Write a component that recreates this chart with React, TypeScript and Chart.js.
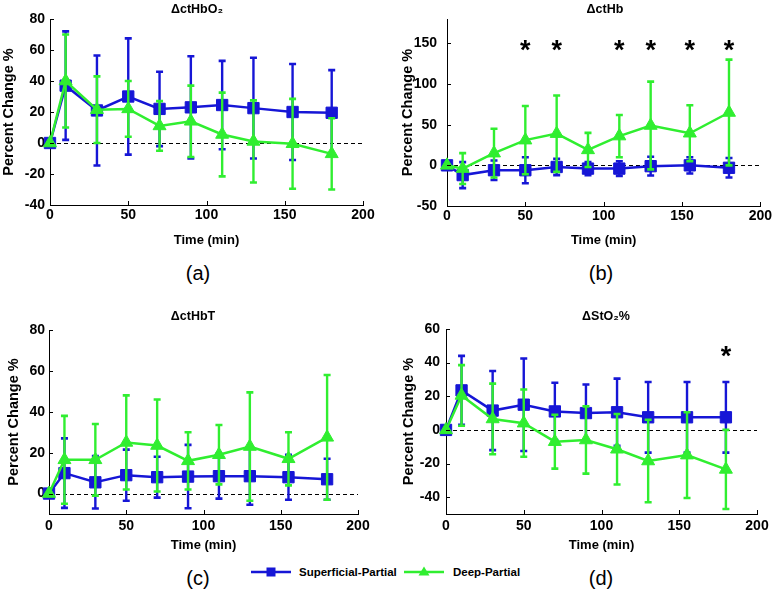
import React, { useEffect, useRef } from "react";
import { Chart, registerables } from "chart.js";

Chart.register(...registerables);

// ---------- data ----------
const timeMin = [0, 10, 30, 50, 70, 90, 110, 130, 155, 180];
const xTicks = [0, 50, 100, 150, 200];

// (a) ΔctHbO2
const hbo2Superficial = [0, 37, 21, 30, 22, 23, 24.5, 22.5, 20, 19.5];
const hbo2SuperficialErr = [0, 35, 35.5, 37.5, 24, 33, 28.5, 32.5, 31, 27.5];
const hbo2Deep = [0, 40, 21.5, 22, 11, 14, 5.5, 1, -0.5, -7];
const hbo2DeepErr = [0, 30, 21.5, 18, 16, 23, 27, 26.5, 29, 23];
const hbo2Ticks = [-40, -20, 0, 20, 40, 60, 80];

// (b) ΔctHb
const hbSuperficial = [0, -12, -6, -6, -2, -4, -4, -1, 0, -3];
const hbSuperficialErr = [0, 16, 12, 16, 10, 8, 9, 11.5, 10, 12];
const hbDeep = [0, -4, 15, 31, 39, 19, 36, 49, 39.5, 65];
const hbDeepErr = [0, 19, 30, 42, 47, 21, 26, 54, 34.5, 65];
const hbTicks = [-50, 0, 50, 100, 150];
const hbStarTimes = [50, 70, 110, 130, 155, 180];
const hbStarLevels = [150, 150, 150, 150, 150, 150];

// (c) ΔctHbT
const hbtSuperficial = [0, 10, 5.5, 9, 8, 8.3, 8.5, 8.5, 8, 7];
const hbtSuperficialErr = [0, 17, 12.8, 12.5, 10, 15.5, 11, 14, 11, 10];
const hbtDeep = [0, 16.5, 16.5, 25, 23.5, 16, 19, 23, 17, 27.5];
const hbtDeepErr = [0, 21.5, 17.5, 23, 22.5, 14, 14.5, 26.5, 13, 30.5];
const hbtTicks = [0, 20, 40, 60, 80];

// (d) ΔStO2%
const sto2Superficial = [0, 23.5, 11.5, 15, 11, 10, 10.5, 7.5, 7.5, 7.5];
const sto2SuperficialErr = [0, 20.5, 23.5, 27.5, 17, 17, 20, 21, 21, 21];
const sto2Deep = [0, 20.5, 6.5, 4, -7, -6, -11.5, -18.5, -15, -23.5];
const sto2DeepErr = [0, 18, 21, 20, 16, 20, 21, 24.5, 25.5, 23.5];
const sto2Ticks = [-40, -20, 0, 20, 40, 60];
const sto2StarTimes = [180];
const sto2StarLevels = [48];

const zeroLevel = 0;

// ---------- style ----------
const BLUE = "#1616d6";
const GREEN = "#30ee30";
const FONT = "'Liberation Sans', Arial, Helvetica, sans-serif";

interface PanelSpec {
  title: string;
  left: number;
  top: number;
  width: number;
  height: number;
  pad: { left: number; top: number; right: number; bottom: number };
  yAxisWidth: number;
  xAxisHeight: number;
  yMin: number;
  yMax: number;
  yTicks: number[];
  yTickPad: number;
  xTickPad: number;
  yTitlePad: number;
  titleX: number;
  titleY: number;
  sup: number[];
  supErr: number[];
  deep: number[];
  deepErr: number[];
  starTimes: number[];
  starLevels: number[];
}

const panels: PanelSpec[] = [
  {
    title: "ΔctHbO₂",
    left: 0, top: 0, width: 390, height: 250,
    pad: { left: 0, top: 19, right: 27, bottom: 0 },
    yAxisWidth: 50, xAxisHeight: 45,
    yMin: -40, yMax: 80, yTicks: hbo2Ticks,
    yTickPad: 5, xTickPad: 2, yTitlePad: 0,
    titleX: 197, titleY: 10,
    sup: hbo2Superficial, supErr: hbo2SuperficialErr,
    deep: hbo2Deep, deepErr: hbo2DeepErr,
    starTimes: [], starLevels: [],
  },
  {
    title: "ΔctHb",
    left: 392, top: 0, width: 382, height: 250,
    pad: { left: 0, top: 19, right: 13, bottom: 0 },
    yAxisWidth: 55, xAxisHeight: 44,
    yMin: -50, yMax: 180, yTicks: hbTicks,
    yTickPad: 10, xTickPad: 2, yTitlePad: 7,
    titleX: 605, titleY: 10,
    sup: hbSuperficial, supErr: hbSuperficialErr,
    deep: hbDeep, deepErr: hbDeepErr,
    starTimes: hbStarTimes, starLevels: hbStarLevels,
  },
  {
    title: "ΔctHbT",
    left: 0, top: 305, width: 390, height: 250,
    pad: { left: 0, top: 25, right: 32, bottom: 0 },
    yAxisWidth: 49, xAxisHeight: 41,
    yMin: -10, yMax: 80, yTicks: hbtTicks,
    yTickPad: 4, xTickPad: 4, yTitlePad: 5,
    titleX: 193, titleY: 317,
    sup: hbtSuperficial, supErr: hbtSuperficialErr,
    deep: hbtDeep, deepErr: hbtDeepErr,
    starTimes: [], starLevels: [],
  },
  {
    title: "ΔStO₂%",
    left: 392, top: 305, width: 382, height: 250,
    pad: { left: 0, top: 24, right: 17, bottom: 0 },
    yAxisWidth: 54, xAxisHeight: 41,
    yMin: -50, yMax: 60, yTicks: sto2Ticks,
    yTickPad: 6, xTickPad: 4, yTitlePad: 8,
    titleX: 606, titleY: 317,
    sup: sto2Superficial, supErr: sto2SuperficialErr,
    deep: sto2Deep, deepErr: sto2DeepErr,
    starTimes: sto2StarTimes, starLevels: sto2StarLevels,
  },
];

function makeExtras(spec: PanelSpec) {
  return {
    id: "panelExtras",
    beforeDatasetsDraw(chart: any) {
      const { ctx, chartArea } = chart;
      const ys = chart.scales.y;
      const y = ys.getPixelForValue(zeroLevel);
      ctx.save();
      ctx.strokeStyle = "#000";
      ctx.lineWidth = 1;
      ctx.setLineDash([4, 3]);
      ctx.beginPath();
      ctx.moveTo(chartArea.left, Math.round(y) + 0.5);
      ctx.lineTo(chartArea.right, Math.round(y) + 0.5);
      ctx.stroke();
      ctx.restore();
    },
    beforeDatasetDraw(chart: any, args: any) {
      const { ctx } = chart;
      const xs = chart.scales.x;
      const ys = chart.scales.y;
      const isDeep = args.index === 0;
      const means = isDeep ? spec.deep : spec.sup;
      const errs = isDeep ? spec.deepErr : spec.supErr;
      const color = isDeep ? GREEN : BLUE;
      ctx.save();
      ctx.strokeStyle = color;
      for (let i = 0; i < timeMin.length; i++) {
        const e = errs[i];
        if (!e) continue;
        const x = xs.getPixelForValue(timeMin[i]);
        const y1 = ys.getPixelForValue(means[i] + e);
        const y2 = ys.getPixelForValue(means[i] - e);
        ctx.lineWidth = 2.4;
        ctx.beginPath();
        ctx.moveTo(x, y1);
        ctx.lineTo(x, y2);
        ctx.stroke();
        ctx.lineWidth = 2.6;
        ctx.beginPath();
        ctx.moveTo(x - 3.5, y1);
        ctx.lineTo(x + 3.5, y1);
        ctx.moveTo(x - 3.5, y2);
        ctx.lineTo(x + 3.5, y2);
        ctx.stroke();
      }
      ctx.restore();
    },
    afterDraw(chart: any) {
      const { ctx, chartArea } = chart;
      const xs = chart.scales.x;
      const ys = chart.scales.y;
      ctx.save();
      // inward tick marks
      ctx.strokeStyle = "#000";
      ctx.lineWidth = 1;
      ctx.beginPath();
      xTicks.forEach((v) => {
        const x = Math.round(xs.getPixelForValue(v)) + 0.5;
        ctx.moveTo(x, chartArea.bottom);
        ctx.lineTo(x, chartArea.bottom - 4);
      });
      spec.yTicks.forEach((v) => {
        const y = Math.round(ys.getPixelForValue(v)) + 0.5;
        ctx.moveTo(chartArea.left, y);
        ctx.lineTo(chartArea.left + 4, y);
      });
      ctx.stroke();
      // significance asterisks
      const size = 27;
      ctx.fillStyle = "#000";
      ctx.font = `bold ${size}px ${FONT}`;
      ctx.textAlign = "center";
      ctx.textBaseline = "alphabetic";
      spec.starTimes.forEach((t, i) => {
        const x = xs.getPixelForValue(t);
        const y = ys.getPixelForValue(spec.starLevels[i]);
        ctx.fillText("*", x, y + size * 0.57);
      });
      // panel title
      ctx.font = `bold 12.5px ${FONT}`;
      ctx.textBaseline = "middle";
      ctx.fillText(spec.title, spec.titleX - spec.left, spec.titleY - spec.top);
      ctx.restore();
    },
  };
}

function Panel({ spec }: { spec: PanelSpec }) {
  const ref = useRef<HTMLCanvasElement | null>(null);
  useEffect(() => {
    if (!ref.current) return;
    const chart = new Chart(ref.current, {
      type: "line",
      data: {
        datasets: [
          {
            label: "Deep-Partial",
            data: timeMin.map((t, i) => ({ x: t, y: spec.deep[i] })),
            borderColor: GREEN,
            backgroundColor: GREEN,
            borderWidth: 2.5,
            pointStyle: "triangle",
            pointRadius: 7.5,
            pointBorderWidth: 1,
            pointBackgroundColor: GREEN,
            pointBorderColor: GREEN,
            tension: 0,
            clip: false,
            order: 0,
          } as any,
          {
            label: "Superficial-Partial",
            data: timeMin.map((t, i) => ({ x: t, y: spec.sup[i] })),
            borderColor: BLUE,
            backgroundColor: BLUE,
            borderWidth: 2.5,
            pointStyle: "rect",
            pointRadius: 8,
            pointBorderWidth: 1,
            pointBackgroundColor: BLUE,
            pointBorderColor: BLUE,
            tension: 0,
            clip: false,
            order: 1,
          } as any,
        ],
      },
      options: {
        responsive: false,
        animation: false,
        devicePixelRatio: 1,
        events: [],
        layout: { padding: spec.pad },
        plugins: {
          legend: { display: false },
          tooltip: { enabled: false },
          title: { display: false },
        },
        scales: {
          x: {
            type: "linear",
            min: 0,
            max: 200,
            afterBuildTicks: (s: any) => {
              s.ticks = xTicks.map((v) => ({ value: v }));
            },
            afterFit: (s: any) => {
              s.height = spec.xAxisHeight;
            },
            grid: { display: false, drawTicks: false },
            border: { display: true, color: "#000", width: 1 },
            ticks: {
              color: "#000",
              font: { family: FONT, size: 14, weight: "bold" },
              padding: spec.xTickPad,
              maxRotation: 0,
              autoSkip: false,
            },
            title: {
              display: true,
              text: "Time (min)",
              color: "#000",
              font: { family: FONT, size: 13, weight: "bold" },
              padding: { top: 0, bottom: 2 },
            },
          },
          y: {
            type: "linear",
            min: spec.yMin,
            max: spec.yMax,
            afterBuildTicks: (s: any) => {
              s.ticks = spec.yTicks.map((v) => ({ value: v }));
            },
            afterFit: (s: any) => {
              s.width = spec.yAxisWidth;
            },
            grid: { display: false, drawTicks: false },
            border: { display: true, color: "#000", width: 1 },
            ticks: {
              color: "#000",
              font: { family: FONT, size: 14, weight: "bold" },
              padding: spec.yTickPad,
              autoSkip: false,
            },
            title: {
              display: true,
              text: "Percent Change %",
              color: "#000",
              font: { family: FONT, size: 14.5, weight: "bold" },
              padding: { top: spec.yTitlePad, bottom: 0 },
            },
          },
        },
      } as any,
      plugins: [makeExtras(spec)],
    });
    return () => chart.destroy();
  }, [spec]);
  return (
    <canvas
      ref={ref}
      width={spec.width}
      height={spec.height}
      style={{ position: "absolute", left: spec.left, top: spec.top, width: spec.width, height: spec.height }}
    />
  );
}

const panelLabels = [
  { text: "(a)", x: 198, y: 273 },
  { text: "(b)", x: 601, y: 273 },
  { text: "(c)", x: 198, y: 578 },
  { text: "(d)", x: 601, y: 578 },
];

export default function App() {
  return (
    <div
      style={{
        position: "fixed",
        left: 0,
        top: 0,
        width: 774,
        height: 605,
        background: "#fff",
        overflow: "hidden",
        fontFamily: FONT,
      }}
    >
      {panels.map((p, i) => (
        <Panel key={i} spec={p} />
      ))}
      {panelLabels.map((l) => (
        <div
          key={l.text}
          style={{
            position: "absolute",
            left: l.x - 30,
            top: l.y - 12,
            width: 60,
            height: 24,
            lineHeight: "24px",
            textAlign: "center",
            fontSize: 20,
            color: "#000",
          }}
        >
          {l.text}
        </div>
      ))}
      {/* legend */}
      <svg
        width={40}
        height={14}
        style={{ position: "absolute", left: 251, top: 565 }}
      >
        <line x1={0} y1={7} x2={40} y2={7} stroke={BLUE} strokeWidth={2.5} />
        <rect x={15.5} y={2.5} width={9} height={9} fill={BLUE} />
      </svg>
      <div
        style={{
          position: "absolute",
          left: 299,
          top: 564,
          height: 16,
          lineHeight: "16px",
          fontSize: 11.5,
          fontWeight: "bold",
          color: "#000",
          whiteSpace: "nowrap",
        }}
      >
        Superficial-Partial
      </div>
      <svg
        width={40}
        height={14}
        style={{ position: "absolute", left: 404, top: 565 }}
      >
        <line x1={0} y1={7} x2={40} y2={7} stroke={GREEN} strokeWidth={2.5} />
        <polygon points="20,1.5 25.5,10.5 14.5,10.5" fill={GREEN} />
      </svg>
      <div
        style={{
          position: "absolute",
          left: 453,
          top: 564,
          height: 16,
          lineHeight: "16px",
          fontSize: 11.5,
          fontWeight: "bold",
          color: "#000",
          whiteSpace: "nowrap",
        }}
      >
        Deep-Partial
      </div>
    </div>
  );
}
